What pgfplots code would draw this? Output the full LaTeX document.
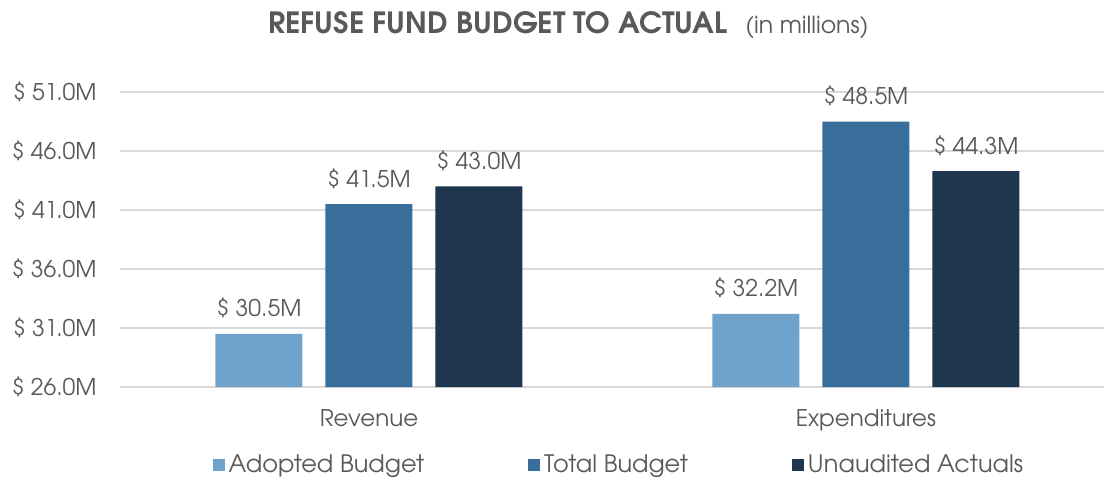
\documentclass[border=0pt]{standalone}
\usepackage{pgfplots}
\pgfplotsset{compat=1.18}
\usepackage{fontspec}
\setmainfont{TeX Gyre Adventor}
\definecolor{cA}{HTML}{6FA3CC}
\definecolor{cB}{HTML}{396E9B}
\definecolor{cC}{HTML}{1F364F}
\definecolor{txt}{HTML}{595959}
\definecolor{grd}{HTML}{D9D9D9}
\begin{document}
\begin{tikzpicture}
\path[use as bounding box] (0pt,0pt) rectangle (553pt,239.5pt);
\node[anchor=base west, inner sep=0pt, text=txt] at (134pt,223pt) {\resizebox{229.5pt}{11pt}{\bfseries REFUSE FUND BUDGET TO ACTUAL}};
\node[anchor=base west, inner sep=0pt, text=txt, font=\fontsize{11.8}{13}\selectfont] at (372.5pt,223pt) {(in millions)};
\begin{axis}[
  at={(60pt,46pt)}, anchor=south west,
  scale only axis, width=492pt, height=147.5pt,
  xmin=-0.501, xmax=1.479, ymin=26, ymax=51,
  ytick={26,31,36,41,46,51},
  xtick={0,1}, xticklabels={Revenue,Expenditures},
  /pgf/number format/assume math mode=true,
  yticklabel={\$ \pgfmathprintnumber[fixed,fixed zerofill,precision=1]{\tick}M},
  ymajorgrids, grid style={grd, line width=0.75pt},
  axis line style={draw=none}, major tick length=0pt, tick style={draw=none},
  ticklabel style={font=\fontsize{11.5}{13}\selectfont, text=txt},
  yticklabel style={inner sep=0pt, xshift=-11.5pt},
  xticklabel style={inner sep=0pt, yshift=-11pt},
  ybar, bar width=43.5pt,
  clip mode=individual,
  nodes near coords={\$ \pgfmathprintnumber[fixed,fixed zerofill,precision=1]{\pgfplotspointmeta}M},
  every node near coord/.append style={inner sep=0pt, anchor=base, yshift=8.5pt, font=\fontsize{11.5}{13}\selectfont, text=txt},
  legend columns=3,
  legend image code/.code={\fill[#1] (0pt,-3.2pt) rectangle (6pt,3.2pt);},
  legend style={at={(0.508,0)}, anchor=center, yshift=-39pt, draw=none, fill=none,
    font=\fontsize{12}{14}\selectfont, text=txt,
    /tikz/every even column/.append style={column sep=50pt}},
]
\addplot[fill=cA, draw=none, bar shift=-55pt] coordinates {(0,30.5) (1,32.2)};
\addplot[fill=cB, draw=none, bar shift=0pt] coordinates {(0,41.5) (1,48.5)};
\addplot[fill=cC, draw=none, bar shift=55pt] coordinates {(0,43.0) (1,44.3)};
\legend{Adopted Budget, Total Budget, Unaudited Actuals}
\end{axis}
\end{tikzpicture}
\end{document}
